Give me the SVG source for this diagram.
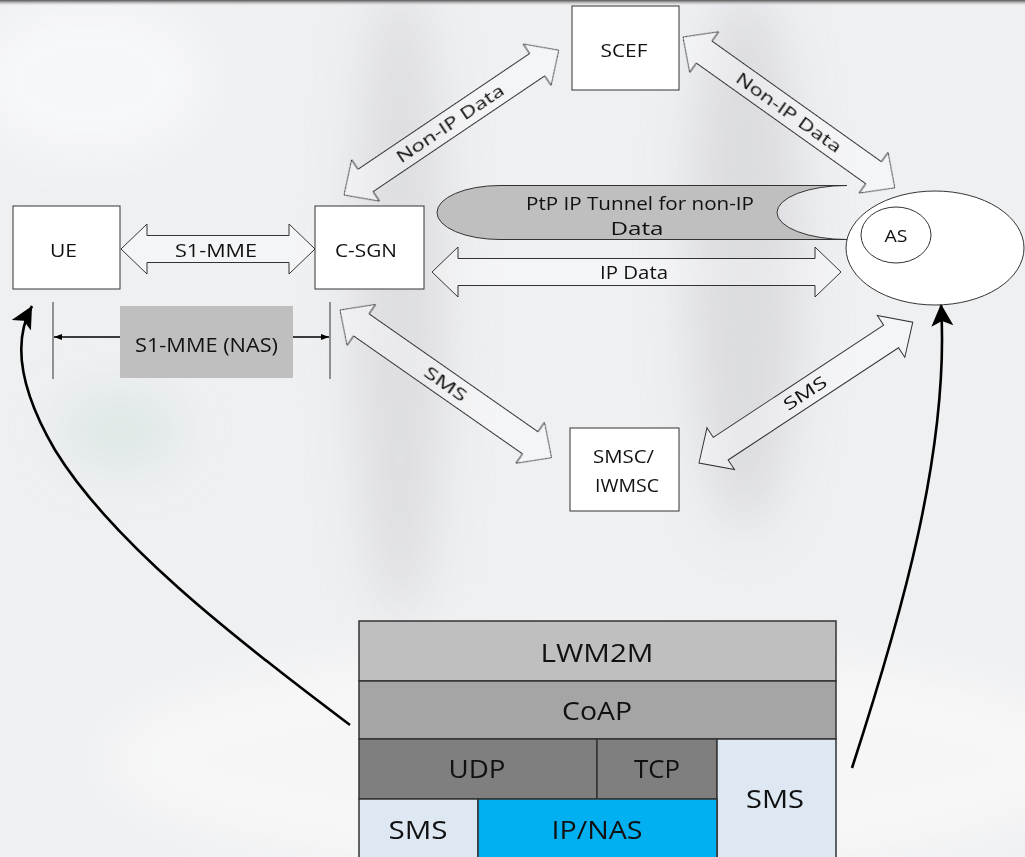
<svg xmlns="http://www.w3.org/2000/svg" width="1025" height="857" viewBox="0 0 1025 857">
<style>
.t{font-family:"Open Sans","Liberation Sans",sans-serif;fill:#111;text-anchor:middle}
.box{fill:#fff;stroke:#333;stroke-width:1}
.dbl{fill:#fff;fill-opacity:0.35;stroke:#333;stroke-width:1;stroke-linejoin:miter}
.cell{stroke:#333;stroke-width:1.5}
.curve{fill:none;stroke:#000;stroke-width:2.6}
.nas{fill:none;stroke:#000;stroke-width:1.6}
.vline{stroke:#333;stroke-width:1}
</style>
<defs>
<filter id="blur" x="-50%" y="-50%" width="200%" height="200%"><feGaussianBlur stdDeviation="25"/></filter>
<linearGradient id="topg" x1="0" y1="0" x2="0" y2="1"><stop offset="0" stop-color="#5a5a5a"/><stop offset="0.3" stop-color="#9a9a9a"/><stop offset="1" stop-color="#eef0f2" stop-opacity="0"/></linearGradient>
<marker id="bigHead" markerUnits="userSpaceOnUse" markerWidth="24" markerHeight="24" viewBox="0 0 24 24" refX="22" refY="12" orient="auto">
<path d="M0,1 L22,12 L0,23 L5,12 Z" fill="#000"/>
</marker>
<marker id="smallHead" markerUnits="userSpaceOnUse" markerWidth="8" markerHeight="8" viewBox="0 0 8 8" refX="8" refY="4" orient="auto">
<path d="M0,1 L8,4 L0,7 Z" fill="#000"/>
</marker>
</defs>

<g id="background">
<rect x="0" y="0" width="1025" height="857" fill="#eff0f2"/>
<g filter="url(#blur)">
<ellipse cx="400" cy="300" rx="45" ry="320" fill="#d6d6d8" opacity="0.7"/>
<ellipse cx="745" cy="260" rx="55" ry="270" fill="#cfcfd2" opacity="0.6"/>
<ellipse cx="120" cy="430" rx="60" ry="40" fill="#cde0da" opacity="0.5"/>
<ellipse cx="90" cy="80" rx="120" ry="80" fill="#f8f9fb" opacity="0.8"/>
<ellipse cx="600" cy="760" rx="500" ry="120" fill="#f7f7f8" opacity="0.8"/>
</g>
<rect x="0" y="0" width="1025" height="6" fill="url(#topg)"/>
</g>

<g id="connectors">
<g id="s1mme">
<path class="dbl" transform="translate(121,249)" d="M0,0 L26,-25 L26,-13.5 L168,-13.5 L168,-25 L194,0 L168,25 L168,13.5 L26,13.5 L26,25 Z"/>
<text class="t" x="216" y="257" font-size="18" textLength="82" lengthAdjust="spacingAndGlyphs">S1-MME</text>
</g>
<g id="ipdata">
<path class="dbl" transform="translate(432,272)" d="M0,0 L26,-25 L26,-13.5 L383,-13.5 L383,-25 L409,0 L383,25 L383,13.5 L26,13.5 L26,25 Z"/>
<text class="t" x="634" y="279" font-size="18" textLength="68" lengthAdjust="spacingAndGlyphs">IP Data</text>
</g>
<g id="nonip-left" transform="translate(344,195) rotate(-34)">
<path class="dbl" d="M0,0 L26,-25 L26,-13.5 L233,-13.5 L233,-25 L259,0 L233,25 L233,13.5 L26,13.5 L26,25 Z"/>
<text class="t" x="128" y="6" font-size="17" textLength="126" lengthAdjust="spacingAndGlyphs">Non-IP Data</text>
</g>
<g id="nonip-right" transform="translate(683,37) rotate(35.46)">
<path class="dbl" d="M0,0 L26,-25 L26,-13.5 L234,-13.5 L234,-25 L260,0 L234,25 L234,13.5 L26,13.5 L26,25 Z"/>
<text class="t" x="130" y="6" font-size="17" textLength="125" lengthAdjust="spacingAndGlyphs">Non-IP Data</text>
</g>
<g id="sms-left" transform="translate(340,310) rotate(34.92)">
<path class="dbl" d="M0,0 L26,-25 L26,-13.5 L232,-13.5 L232,-25 L258,0 L232,25 L232,13.5 L26,13.5 L26,25 Z"/>
<text class="t" x="129" y="6" font-size="17" textLength="48" lengthAdjust="spacingAndGlyphs">SMS</text>
</g>
<g id="sms-right" transform="translate(699,463) rotate(-33.38)">
<path class="dbl" d="M0,0 L26,-25 L26,-13.5 L230,-13.5 L230,-25 L256,0 L230,25 L230,13.5 L26,13.5 L26,25 Z"/>
<text class="t" x="127" y="6" font-size="17" textLength="48" lengthAdjust="spacingAndGlyphs">SMS</text>
</g>
<g id="nas">
<line class="vline" x1="53" y1="302" x2="53" y2="379"/>
<line class="vline" x1="330" y1="302" x2="330" y2="379"/>
<line class="nas" x1="120" y1="337" x2="54" y2="337" marker-end="url(#smallHead)"/>
<line class="nas" x1="293" y1="337" x2="329" y2="337" marker-end="url(#smallHead)"/>
</g>
<path class="curve" d="M350,725 C230,635 110,540 55,450 C20,390 12,342 32,306" marker-end="url(#bigHead)"/>
<path class="curve" d="M852,768 C900,620 950,450 941,304" marker-end="url(#bigHead)"/>
</g>

<g id="tunnel">
<path d="M847,185.5 L500,185.5 A63,27 0 0 0 500,239.5 L847,239.5 A70,27 0 0 1 847,185.5 Z" fill="#bfbfbf" stroke="#333" stroke-width="1"/>
<text class="t" x="640" y="210" font-size="19" textLength="228" lengthAdjust="spacingAndGlyphs">PtP IP Tunnel for non-IP</text>
<text class="t" x="637" y="235" font-size="19" textLength="53" lengthAdjust="spacingAndGlyphs">Data</text>
</g>

<g id="ue">
<rect class="box" x="13" y="206" width="107" height="83"/>
<text class="t" x="63.5" y="257" font-size="18" textLength="27" lengthAdjust="spacingAndGlyphs">UE</text>
</g>
<g id="csgn">
<rect class="box" x="315" y="206" width="109" height="83"/>
<text class="t" x="366" y="257" font-size="18" textLength="62" lengthAdjust="spacingAndGlyphs">C-SGN</text>
</g>
<g id="scef">
<rect class="box" x="572" y="6" width="107" height="84"/>
<text class="t" x="624" y="57" font-size="18" textLength="47" lengthAdjust="spacingAndGlyphs">SCEF</text>
</g>
<g id="smsc">
<rect class="box" x="570" y="428" width="109" height="83"/>
<text class="t" x="623.5" y="463" font-size="19" textLength="61" lengthAdjust="spacingAndGlyphs">SMSC/</text>
<text class="t" x="627" y="492" font-size="19" textLength="64" lengthAdjust="spacingAndGlyphs">IWMSC</text>
</g>
<g id="as">
<ellipse cx="935" cy="248" rx="89" ry="57" fill="#fff" stroke="#333" stroke-width="1"/>
<ellipse cx="896" cy="235" rx="35" ry="28" fill="#fff" stroke="#333" stroke-width="1"/>
<text class="t" x="896" y="242" font-size="17" textLength="23" lengthAdjust="spacingAndGlyphs">AS</text>
</g>
<g id="nasbox">
<rect x="120" y="306" width="173" height="72" fill="#bfbfbf"/>
<text class="t" x="206.5" y="352" font-size="20" textLength="143" lengthAdjust="spacingAndGlyphs">S1-MME (NAS)</text>
</g>

<g id="stack">
<rect class="cell" x="359" y="621" width="477" height="60" fill="#bfbfbf"/>
<text class="t" x="597" y="662" font-size="26" textLength="113" lengthAdjust="spacingAndGlyphs">LWM2M</text>
<rect class="cell" x="359" y="681" width="477" height="58" fill="#a5a5a5"/>
<text class="t" x="597" y="720" font-size="26" textLength="70" lengthAdjust="spacingAndGlyphs">CoAP</text>
<rect class="cell" x="359" y="739" width="238" height="60" fill="#7f7f7f"/>
<text class="t" x="477" y="778" font-size="26" textLength="57" lengthAdjust="spacingAndGlyphs">UDP</text>
<rect class="cell" x="597" y="739" width="120" height="60" fill="#7f7f7f"/>
<text class="t" x="657" y="778" font-size="26" textLength="46" lengthAdjust="spacingAndGlyphs">TCP</text>
<rect class="cell" x="717" y="739" width="119" height="120" fill="#dde8f3"/>
<text class="t" x="775" y="808" font-size="26" textLength="58" lengthAdjust="spacingAndGlyphs">SMS</text>
<rect class="cell" x="359" y="799" width="119" height="60" fill="#dde8f3"/>
<text class="t" x="418" y="839" font-size="26" textLength="59" lengthAdjust="spacingAndGlyphs">SMS</text>
<rect class="cell" x="478" y="799" width="239" height="60" fill="#00b0f0"/>
<text class="t" x="597" y="839" font-size="26" textLength="91" lengthAdjust="spacingAndGlyphs">IP/NAS</text>
</g>
</svg>
